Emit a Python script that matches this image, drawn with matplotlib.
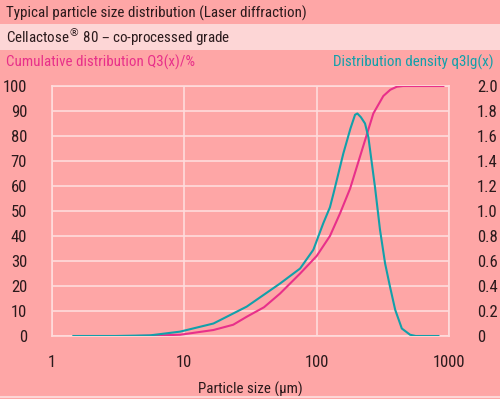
import matplotlib
matplotlib.use("Agg")
import matplotlib.pyplot as plt
from matplotlib.patches import Rectangle
from matplotlib.lines import Line2D

# values
size_density = [1.45, 3, 5.5, 9.3, 16.6, 29.6, 52.9, 75, 94.4, 112, 126, 134, 159,
                180, 195, 203, 216, 232, 246, 276, 301, 329, 359, 392, 440, 508, 560, 832]
density = [0, 0, 0.005, 0.035, 0.10, 0.235, 0.42, 0.54, 0.69, 0.90, 1.03, 1.14, 1.46,
           1.66, 1.77, 1.78, 1.75, 1.70, 1.59, 1.19, 0.85, 0.58, 0.39, 0.21, 0.06, 0.01, 0, 0]

size_cum = [4.4, 9.3, 16.6, 23.4, 29.6, 40, 52.9, 75, 100, 126, 150, 179, 225, 268,
            319, 360, 403, 450, 907]
cumulative = [0, 0.5, 2.4, 4.5, 7.7, 11.5, 17, 25, 32, 40, 49, 59, 76, 89,
              96, 98.5, 99.7, 100, 100]

left_ticks = list(range(0, 101, 10))
right_ticks = [0, 0.2, 0.4, 0.6, 0.8, 1.0, 1.2, 1.4, 1.6, 1.8, 2.0]
right_labels = ["0", "0.2", "0.4", "0.6", "0.8", "1.0", "1.2", "1.4", "1.6", "1.8", "2.0"]
x_ticks = [1, 10, 100, 1000]
x_labels = ["1", "10", "100", "1000"]

BG = "#fea6a6"
BAND = "#fdd6d6"
GRID = "#ffdcdc"
MAGENTA = "#e8308a"
TEAL = "#12a0aa"
DARK = "#2a1a1c"

plt.rcParams["font.family"] = ["Roboto Condensed", "DejaVu Sans"]

W, H = 500, 399
fig = plt.figure(figsize=(W / 100, H / 100), dpi=100)
fig.patch.set_facecolor(BG)


def fx(px):
    return px / W


def fy(py):
    return 1 - py / H


# header bands
fig.patches.append(Rectangle((0, fy(50)), 1, (50 - 24) / H, transform=fig.transFigure,
                             facecolor=BAND, edgecolor="none", zorder=0))
fig.lines.append(Line2D([0, 1], [fy(397), fy(397)], transform=fig.transFigure,
                        color=BAND, lw=1.5))

hdr = 10.8
fig.text(fx(6), fy(13), "Typical particle size distribution (Laser diffraction)",
         fontsize=hdr, color=DARK, va="center", ha="left")
fig.text(fx(6), fy(37), "Cellactose$^{\\circledR}$ 80 – co-processed grade",
         fontsize=hdr, color=DARK, va="center", ha="left")
fig.text(fx(6), fy(62), "Cumulative distribution Q3(x)/%",
         fontsize=hdr, color=MAGENTA, va="center", ha="left")
fig.text(fx(494), fy(62), "Distribution density q3lg(x)",
         fontsize=hdr, color=TEAL, va="center", ha="right")

ax = fig.add_axes([fx(52), fy(336), (449 - 52) / W, (336 - 86) / H])
ax.set_facecolor(BG)
ax.set_xscale("log")
ax.set_xlim(1, 1000)
ax.set_ylim(0, 100)
ax.set_xticks(x_ticks)
ax.set_xticklabels(x_labels)
ax.minorticks_off()
ax.set_yticks(left_ticks)
ax.grid(True, color=GRID, lw=1.2)
ax.set_axisbelow(True)
for s in ax.spines.values():
    s.set_color(GRID)
    s.set_linewidth(1.2)
ax.tick_params(length=0, labelsize=12, colors=DARK, pad=18)
ax.tick_params(axis="x", pad=14)
ax.set_xlabel("Particle size (µm)", fontsize=hdr, color=DARK, labelpad=8)

ax2 = ax.twinx()
ax2.set_ylim(0, 2.0)
ax2.set_yticks(right_ticks)
ax2.set_yticklabels(right_labels)
ax2.tick_params(length=0, labelsize=12, colors=DARK, pad=20)
for s in ax2.spines.values():
    s.set_visible(False)

ax2.plot(size_density, density, color=TEAL, lw=1.5, zorder=3)
ax.plot(size_cum, cumulative, color=MAGENTA, lw=1.5, zorder=4)

fig.savefig("out.png", dpi=100, facecolor=BG)
